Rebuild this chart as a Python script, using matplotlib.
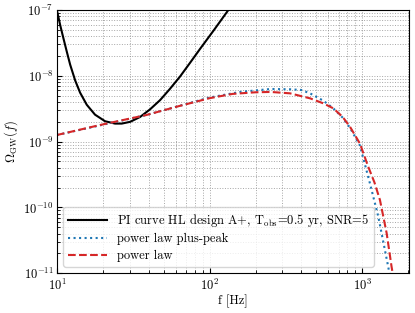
import numpy as np
import matplotlib
matplotlib.use("Agg")
import matplotlib.pyplot as plt

plt.rcParams["font.family"] = "serif"
plt.rcParams["font.serif"] = ["cmr10", "DejaVu Serif"]
plt.rcParams["mathtext.fontset"] = "cm"
plt.rcParams["axes.formatter.use_mathtext"] = True
plt.rcParams["font.size"] = 9

# PI curve
pi_f = [10, 10.51, 11.04, 11.61, 12.22, 13.18, 14.19, 15.70, 17.78, 20.70, 24.04,
        26.61, 30.20, 35.08, 40.74, 47.42, 54.95, 64.12, 74.13, 86.70, 107.2, 132.8]
pi_omega = [1.0e-7, 5.92e-8, 3.72e-8, 2.34e-8, 1.48e-8, 8.51e-9, 5.56e-9, 3.63e-9,
            2.57e-9, 2.04e-9, 1.88e-9, 1.88e-9, 2.0e-9, 2.37e-9, 3.09e-9, 4.27e-9,
            6.31e-9, 9.77e-9, 1.55e-8, 2.57e-8, 5.01e-8, 1.0e-7]

# power law plus-peak
pp_f = [10, 38.6, 100, 158.5, 251.2, 336.5, 398.1, 455.0, 555.9, 645.7, 741.3,
        831.8, 966.1, 1122, 1274, 1479, 1549]
pp_omega = [1.26e-9, 2.54e-9, 4.68e-9, 5.69e-9, 6.31e-9, 6.24e-9, 6.10e-9, 5.42e-9,
            4.19e-9, 3.21e-9, 2.34e-9, 1.62e-9, 8.71e-10, 2.34e-10, 7.24e-11,
            1.26e-11, 7.08e-12]

# power law
pl_f = [10, 19.2, 38.6, 63.1, 100, 141.3, 199.5, 251.2, 336.5, 455.0, 555.9, 645.7,
        741.3, 831.8, 966.1, 1094, 1202, 1306, 1445, 1556, 1622]
pl_omega = [1.26e-9, 1.79e-9, 2.54e-9, 3.47e-9, 4.57e-9, 5.31e-9, 5.62e-9, 5.69e-9,
            5.42e-9, 4.55e-9, 3.82e-9, 3.21e-9, 2.40e-9, 1.68e-9, 9.33e-10,
            4.17e-10, 2.40e-10, 1.30e-10, 4.07e-11, 1.26e-11, 7.08e-12]

fig, ax = plt.subplots(figsize=(4.15, 3.13), dpi=100)
fig.subplots_adjust(left=0.137, right=0.986, bottom=0.127, top=0.968)

ax.loglog(pi_f, pi_omega, color="black", lw=1.5,
          label=r"PI curve HL design A+, T$_{\rm obs}$=0.5 yr, SNR=5")
ax.loglog(pp_f, pp_omega, color="#1f77b4", lw=1.5, ls=":", label="power law plus-peak")
ax.loglog(pl_f, pl_omega, color="#d62728", lw=1.5, ls="--", label="power law")

ax.set_xlim(10, 2030)
ax.set_ylim(1e-11, 1e-7)
ax.tick_params(which="both", direction="in")
ax.tick_params(axis="y", which="both", pad=2.5)
ax.tick_params(axis="x", which="both", pad=3.5)
ax.grid(True, which="both", ls=":", color="gray", lw=0.7, alpha=0.7)
ax.set_xlabel("f [Hz]", labelpad=1)
ax.set_ylabel(r"$\Omega_{\rm GW}(f)$", labelpad=2)

ax.legend(loc="lower left", handlelength=3.1, labelspacing=0.35)

fig.savefig("out.png", dpi=100)
